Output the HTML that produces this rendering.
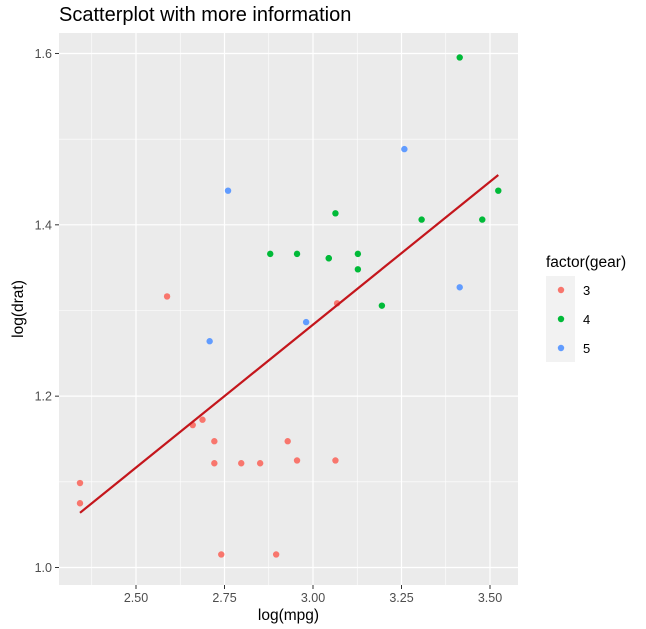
<!DOCTYPE html>
<html><head><meta charset="utf-8"><style>
body{margin:0;background:#fff;}
svg{display:block;font-family:"Liberation Sans",sans-serif;}
</style></head><body>
<svg id="c" width="646" height="629"></svg>
<script>
const mpg=[21.0,21.0,22.8,21.4,18.7,18.1,14.3,24.4,22.8,19.2,17.8,16.4,17.3,15.2,10.4,10.4,14.7,32.4,30.4,33.9,21.5,15.5,15.2,13.3,19.2,27.3,26.0,30.4,15.8,19.7,15.0,21.4];
const drat=[3.90,3.90,3.85,3.08,3.15,2.76,3.21,3.69,3.92,3.92,3.92,3.07,3.07,3.07,2.93,3.00,3.23,4.08,4.93,4.22,3.70,2.76,3.15,3.73,3.08,4.08,4.43,3.77,4.22,3.62,3.54,4.11];
const gear=[4,4,4,3,3,3,3,4,4,4,4,3,3,3,3,3,3,4,4,4,3,3,3,3,3,4,5,5,5,5,5,4];
const xTicks=[2.50,2.75,3.00,3.25,3.50];
const yTicks=[1.0,1.2,1.4,1.6];
const gearLevels=[3,4,5];
const colors={3:"#F8766D",4:"#00BA38",5:"#619CFF"};
const NS="http://www.w3.org/2000/svg";
const svg=document.getElementById('c');
function mk(t,a,p){const e=document.createElementNS(NS,t);for(const k in a)e.setAttribute(k,a[k]);(p||svg).appendChild(e);return e;}
const L=59,R=518,T=33,B=585;
const X=v=>136+(v-2.5)*354;
const Y=v=>567.5-(v-1.0)*856.7;
const bg=mk('rect',{x:L,y:T,width:R-L,height:B-T,fill:'#ebebeb'});


for(let i=0;i<xTicks.length+1;i++){const v=xTicks[0]-0.125+i*0.25;mk('line',{x1:X(v),x2:X(v),y1:T,y2:B,stroke:'#fff','stroke-width':0.6});}
for(let i=0;i<yTicks.length-1;i++){const v=yTicks[i]+0.1;mk('line',{x1:L,x2:R,y1:Y(v),y2:Y(v),stroke:'#fff','stroke-width':0.6});}
xTicks.forEach(v=>{mk('line',{x1:X(v),x2:X(v),y1:T,y2:B,stroke:'#fff','stroke-width':1.2});
 mk('line',{x1:X(v),x2:X(v),y1:B,y2:B+4,stroke:'#333'});
 const t=mk('text',{x:X(v),y:B+17,'text-anchor':'middle','font-size':12.5,fill:'#4d4d4d'});t.textContent=v.toFixed(2);
 });
yTicks.forEach(v=>{mk('line',{x1:L,x2:R,y1:Y(v),y2:Y(v),stroke:'#fff','stroke-width':1.2});
 mk('line',{x1:L-4,x2:L,y1:Y(v),y2:Y(v),stroke:'#333'});
 const t=mk('text',{x:L-7,y:Y(v)+4.5,'text-anchor':'end','font-size':12.5,fill:'#4d4d4d'});t.textContent=v.toFixed(1);
 });
const lx=mpg.map(Math.log),ly=drat.map(Math.log);
lx.forEach((v,i)=>{const c=mk('circle',{cx:X(v),cy:Y(ly[i]),r:3.2,fill:colors[gear[i]]});
 });
const n=lx.length,mx=lx.reduce((a,b)=>a+b)/n,my=ly.reduce((a,b)=>a+b)/n;
let sxy=0,sxx=0;for(let i=0;i<n;i++){sxy+=(lx[i]-mx)*(ly[i]-my);sxx+=(lx[i]-mx)**2;}
const b=sxy/sxx,a=my-b*mx,x0=Math.min(...lx),x1=Math.max(...lx);
const ln=mk('line',{x1:X(x0),y1:Y(a+b*x0),x2:X(x1),y2:Y(a+b*x1),stroke:'#C4161C','stroke-width':2.2});

let t=mk('text',{x:L,y:21,'font-size':20,fill:'#000'});t.textContent='Scatterplot with more information';

t=mk('text',{x:(L+R)/2,y:620,'text-anchor':'middle','font-size':15.5,fill:'#000'});t.textContent='log(mpg)';

t=mk('text',{x:0,y:0,'text-anchor':'middle','font-size':15.5,fill:'#000',transform:`translate(23,${(T+B)/2}) rotate(-90)`});t.textContent='log(drat)';

t=mk('text',{x:546,y:267,'font-size':15.5,fill:'#000'});t.textContent='factor(gear)';

mk('rect',{x:546,y:276,width:29,height:86,fill:'#f2f2f2'});
gearLevels.forEach((g,i)=>{const cy=290+i*29;
 const c=mk('circle',{cx:561,cy:cy,r:3.2,fill:colors[g]});
 const tt=mk('text',{x:583,y:cy+5,'font-size':13,fill:'#000'});tt.textContent=g;
 });
</script>
</body></html>
